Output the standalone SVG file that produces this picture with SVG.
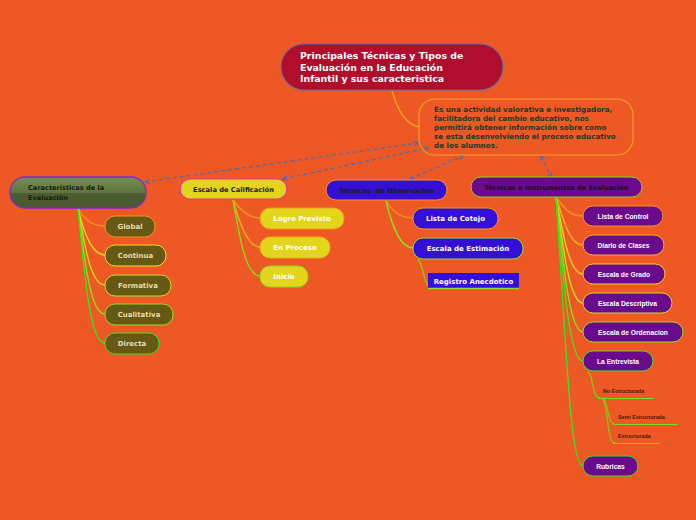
<svg xmlns="http://www.w3.org/2000/svg" width="696" height="520" viewBox="0 0 696 520">
<defs>
<linearGradient id="gCar" x1="0" y1="0" x2="0" y2="1">
<stop offset="0" stop-color="#748f4f"/><stop offset="0.5" stop-color="#5f7640"/><stop offset="0.52" stop-color="#4d5c31"/><stop offset="1" stop-color="#4a5830"/>
</linearGradient>
<marker id="ah" viewBox="0 0 6 6" refX="5" refY="3" markerWidth="5" markerHeight="5" orient="auto-start-reverse">
<path d="M0,0.5 L5,3 L0,5.5" fill="none" stroke="#3f6fbf" stroke-width="1.2"/>
</marker>
</defs>
<style>
.dv{font-family:"DejaVu Sans","Liberation Sans",sans-serif;font-weight:bold}
.lb{font-family:"Liberation Sans",Arial,sans-serif;font-weight:bold}
.dash{fill:none;stroke:#3f6fbf;stroke-width:1.1;stroke-dasharray:4 3;marker-start:url(#ah);marker-end:url(#ah)}
.c{fill:none;stroke-width:1.4}
.olive{fill:#665914}
.olt{fill:#e6dcb0;font-size:7px}
.yel{fill:#e2d51c}
.blu{fill:#3410d6}
.pur{fill:#6a0a8c}
.wt{fill:#ffffff}
</style>
<rect width="696" height="520" fill="#ed5824"/>

<g id="connectors">
<path class="c" stroke="#f7a11a" d="M392,91 C398,110 405,124 419,127"/>
<path class="dash" d="M145,182 L418,143"/>
<path class="dash" d="M283,179 L428,148"/>
<path class="dash" d="M410,179 L463,156"/>
<path class="dash" d="M541,156 L551,177"/>
<!-- Caracteristicas children -->
<path class="c" stroke="#f7941d" d="M78,208 C84,220 92,226 105,226"/>
<path class="c" stroke="#f5d51a" d="M78,208 C84,235 92,255 105,255"/>
<path class="c" stroke="#c8e01a" d="M78,208 C86,255 92,285 105,285"/>
<path class="c" stroke="#8fe01a" d="M78,208 C86,275 92,314 105,314"/>
<path class="c" stroke="#2fe81a" d="M78,208 C86,295 92,343 105,343"/>
<!-- Escala children -->
<path class="c" stroke="#f7941d" d="M233,200 C240,210 248,218 260,218"/>
<path class="c" stroke="#e8b01a" d="M233,200 C240,225 248,247 260,247"/>
<path class="c" stroke="#7fe01a" d="M233,200 C240,240 246,276 260,276"/>
<!-- Observacion children -->
<path class="c" stroke="#f7941d" d="M386,201 C392,211 400,218 413,218"/>
<path class="c" stroke="#8fe01a" d="M386,201 C392,226 400,248 413,248"/>
<path class="c" stroke="#9fbf1a" d="M418,259 C424,266 424,288 432,288"/>
<!-- Instrumentos children -->
<path class="c" stroke="#f7941d" d="M556,197 C564,208 570,216 583,216"/>
<path class="c" stroke="#f5b31a" d="M556,197 C564,222 570,245 583,245"/>
<path class="c" stroke="#f0d01a" d="M556,197 C564,240 570,274 583,274"/>
<path class="c" stroke="#c8e01a" d="M556,197 C564,255 570,303 583,303"/>
<path class="c" stroke="#8fe01a" d="M556,197 C564,272 570,332 583,332"/>
<path class="c" stroke="#4fe01a" d="M556,197 C564,290 570,361 583,361"/>
<path class="c" stroke="#2fe81a" d="M556,197 C566,340 570,466 583,466"/>
<path class="c" stroke="#8fbf1a" d="M588,371 C594,378 592,398 600,398"/>
<path class="c" stroke="#8fbf1a" d="M603,398 C609,405 607,424 615,424"/>
<path class="c" stroke="#8fbf1a" d="M603,398 C609,415 607,443 615,443"/>
</g>

<g id="root">
<rect x="281" y="44" width="222" height="46" rx="23" fill="#b10d2c" stroke="#4a74b8" stroke-width="1"/>
<text class="dv wt" font-size="9.4"><tspan x="300" y="59">Principales Técnicas y Tipos de</tspan><tspan x="300" y="71">Evaluación en la Educación</tspan><tspan x="300" y="82">Infantil y sus caracteristica</tspan></text>
</g>

<g id="descripcion">
<rect x="419" y="99" width="214" height="56" rx="16" fill="none" stroke="#f7a11a" stroke-width="1.2"/>
<text class="dv" font-size="7.2" fill="#1d3b2a"><tspan x="434" y="112">Es una actividad valorativa e investigadora,</tspan><tspan x="434" y="121">facilitadora del cambio educativo, nos</tspan><tspan x="434" y="130">permitirá obtener información sobre como</tspan><tspan x="434" y="139">se esta desenvolviendo el proceso educativo</tspan><tspan x="434" y="148">de los alumnos.</tspan></text>
</g>

<g id="caracteristicas">
<rect x="10" y="177" width="136" height="31" rx="15" fill="url(#gCar)" stroke="#7a2ad0" stroke-width="1.3"/>
<text class="dv" font-size="6.6" fill="#1a1a10"><tspan x="28" y="190">Características de la</tspan><tspan x="28" y="200">Evaluación</tspan></text>
</g>

<g id="escala">
<rect x="180" y="179" width="107" height="20" rx="10" class="yel" stroke="#ee2e9b" stroke-width="1.2"/>
<text class="dv" font-size="6.7" fill="#1a1a10" x="233.5" y="192" text-anchor="middle">Escala de Calificación</text>
</g>

<g id="observacion">
<rect x="326" y="180" width="121" height="20" rx="10" class="blu" stroke="#f7941d" stroke-width="1"/>
<text class="dv" font-size="6.7" fill="#1a1a20" x="386.5" y="193" text-anchor="middle" xml:space="preserve">Técnicas  de Observación</text>
</g>

<g id="instrumentos">
<rect x="471" y="177" width="171" height="20" rx="10" class="pur" stroke="#8fd11f" stroke-width="1"/>
<text class="dv" font-size="6.6" fill="#1a1020" x="556.5" y="190" text-anchor="middle">Técnicas e Instrumentos de Evaluación</text>
</g>

<g id="global"><rect x="105" y="216" width="50" height="21" rx="10" class="olive" stroke="#f7941d"/><text class="dv olt" x="130" y="229" text-anchor="middle">Global</text></g>
<g id="continua"><rect x="105" y="245" width="61" height="21" rx="10" class="olive" stroke="#f5e01a"/><text class="dv olt" x="135.5" y="258" text-anchor="middle">Continua</text></g>
<g id="formativa"><rect x="105" y="275" width="66" height="21" rx="10" class="olive" stroke="#c8e01a"/><text class="dv olt" x="138" y="288" text-anchor="middle">Formativa</text></g>
<g id="cualitativa"><rect x="105" y="304" width="68" height="21" rx="10" class="olive" stroke="#8fe01a"/><text class="dv olt" x="139" y="317" text-anchor="middle">Cualitativa</text></g>
<g id="directa"><rect x="105" y="333" width="54" height="21" rx="10" class="olive" stroke="#2fe81a"/><text class="dv olt" x="132" y="346" text-anchor="middle">Directa</text></g>

<g id="logro"><rect x="260" y="208" width="84" height="21" rx="10" class="yel" stroke="#f7941d"/><text class="dv wt" font-size="7" x="302" y="221" text-anchor="middle">Logro Previsto</text></g>
<g id="proceso"><rect x="260" y="237" width="70" height="21" rx="10" class="yel" stroke="#e8b01a"/><text class="dv wt" font-size="7" x="295" y="250" text-anchor="middle">En Proceso</text></g>
<g id="inicio"><rect x="260" y="266" width="48" height="21" rx="10" class="yel" stroke="#7fe01a"/><text class="dv wt" font-size="7" x="284" y="279" text-anchor="middle">Inicio</text></g>

<g id="cotejo"><rect x="413" y="208" width="85" height="21" rx="10" class="blu" stroke="#f7941d"/><text class="dv wt" font-size="7" x="455.5" y="221" text-anchor="middle">Lista de Cotejo</text></g>
<g id="estimacion"><rect x="413" y="238" width="110" height="21" rx="10" class="blu" stroke="#8fe01a"/><text class="dv wt" font-size="7" x="468" y="251" text-anchor="middle">Escala de Estimación</text></g>
<g id="anecdotico"><rect x="428" y="273" width="91" height="15" class="blu"/><line x1="428" y1="288.5" x2="519" y2="288.5" stroke="#8fe01a" stroke-width="1.4"/><text class="dv wt" font-size="7" x="473.5" y="283.5" text-anchor="middle">Registro Anecdotico</text></g>

<g id="control"><rect x="583" y="206" width="80" height="20" rx="10" class="pur" stroke="#f7941d"/><text class="lb wt" font-size="6.7" x="623" y="218.5" text-anchor="middle">Lista de Control</text></g>
<g id="diario"><rect x="583" y="235" width="81" height="20" rx="10" class="pur" stroke="#f5b31a"/><text class="lb wt" font-size="6.7" x="623.5" y="247.5" text-anchor="middle">Diario de Clases</text></g>
<g id="grado"><rect x="583" y="264" width="82" height="20" rx="10" class="pur" stroke="#f0d01a"/><text class="lb wt" font-size="6.7" x="624" y="276.5" text-anchor="middle">Escala de Grado</text></g>
<g id="descriptiva"><rect x="583" y="293" width="89" height="20" rx="10" class="pur" stroke="#c8e01a"/><text class="lb wt" font-size="6.7" x="627.5" y="305.5" text-anchor="middle">Escala Descriptiva</text></g>
<g id="ordenacion"><rect x="583" y="322" width="100" height="20" rx="10" class="pur" stroke="#8fe01a"/><text class="lb wt" font-size="6.7" x="633" y="334.5" text-anchor="middle">Escala de Ordenacion</text></g>
<g id="entrevista"><rect x="583" y="351" width="70" height="20" rx="10" class="pur" stroke="#4fe01a"/><text class="lb wt" font-size="6.7" x="618" y="363.5" text-anchor="middle">La Entrevista</text></g>
<g id="noestructurada"><line x1="598" y1="398.5" x2="654" y2="398.5" stroke="#6fe01a" stroke-width="1.2"/><text class="lb" font-size="5.3" fill="#4a1a0a" x="603" y="393">No Estructurada</text></g>
<g id="semiestructurada"><line x1="613" y1="424.5" x2="677" y2="424.5" stroke="#6fe01a" stroke-width="1.2"/><text class="lb" font-size="5.3" fill="#4a1a0a" x="618" y="419">Semi Estructurada</text></g>
<g id="estructurada"><line x1="613" y1="443.5" x2="660" y2="443.5" stroke="#6fe01a" stroke-width="1.2"/><text class="lb" font-size="5.3" fill="#4a1a0a" x="618" y="438">Estructurada</text></g>
<g id="rubricas"><rect x="583" y="456" width="55" height="20" rx="10" class="pur" stroke="#2fe81a"/><text class="lb wt" font-size="6.7" x="610.5" y="468.5" text-anchor="middle">Rubricas</text></g>
</svg>
